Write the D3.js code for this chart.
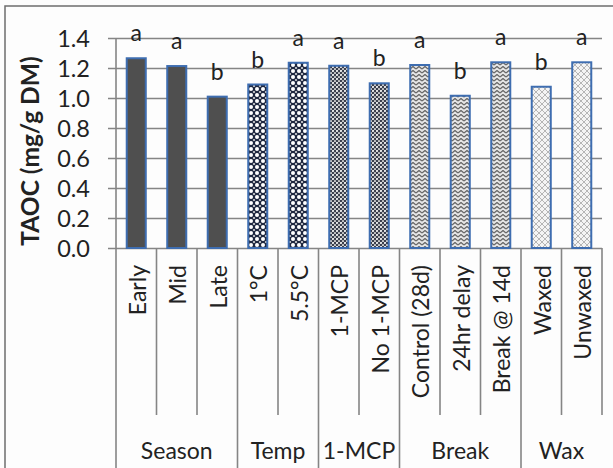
<!DOCTYPE html>
<html>
<head>
<meta charset="utf-8">
<script src="https://cdn.jsdelivr.net/npm/d3@7"></script>
<style>
  body { margin: 0; background: #fdfdfd; }
  text { font-family: Lato, "Open Sans", sans-serif; fill: #222; }
</style>
</head>
<body>
<div id="chart"></div>
<script>
  // data
  var categories = ["Early", "Mid", "Late", "1°C", "5.5°C", "1-MCP", "No 1-MCP",
                    "Control (28d)", "24hr delay", "Break @ 14d", "Waxed", "Unwaxed"];
  var values = [1.265, 1.213, 1.009, 1.09, 1.235, 1.215, 1.098, 1.22, 1.015, 1.238, 1.075, 1.238];
  var letters = ["a", "a", "b", "b", "a", "a", "b", "a", "b", "a", "b", "a"];
  var groups = ["Season", "Temp", "1-MCP", "Break", "Wax"];
  var groupSizes = [3, 2, 2, 3, 2];
  var yTicks = [0, 0.2, 0.4, 0.6, 0.8, 1.0, 1.2, 1.4];

  var W = 613, H = 468;
  var margin = { top: 38, left: 116, right: 11, bottom: 220 };
  var width = W - margin.left - margin.right,
      height = H - margin.top - margin.bottom;

  var svg = d3.select("#chart").append("svg")
      .attr("width", W).attr("height", H);

  // outer frame
  svg.append("rect")
    .attr("x", 5).attr("y", 6).attr("width", W + 10).attr("height", H + 10)
    .attr("fill", "#fdfdfd").attr("stroke", "#6e6e6e").attr("stroke-width", 1.5);

  var defs = svg.append("defs");

  // temp: dark with white dots
  var p1 = defs.append("pattern").attr("id", "pTemp").attr("patternUnits", "userSpaceOnUse")
    .attr("width", 6).attr("height", 6);
  p1.append("rect").attr("width", 6).attr("height", 6).attr("fill", "#1f2840");
  p1.append("circle").attr("cx", 3).attr("cy", 3).attr("r", 2).attr("fill", "#fff");
  p1.append("circle").attr("cx", 0).attr("cy", 0).attr("r", 1.1).attr("fill", "#dcdcdc");
  p1.append("circle").attr("cx", 6).attr("cy", 6).attr("r", 1.1).attr("fill", "#dcdcdc");
  p1.append("circle").attr("cx", 6).attr("cy", 0).attr("r", 1.1).attr("fill", "#dcdcdc");
  p1.append("circle").attr("cx", 0).attr("cy", 6).attr("r", 1.1).attr("fill", "#dcdcdc");

  // 1-MCP: finer mixed dots
  var p2 = defs.append("pattern").attr("id", "pMcp").attr("patternUnits", "userSpaceOnUse")
    .attr("width", 4).attr("height", 4);
  p2.append("rect").attr("width", 4).attr("height", 4).attr("fill", "#3a3e4c");
  p2.append("circle").attr("cx", 1).attr("cy", 1).attr("r", 1.1).attr("fill", "#f2f2f2");
  p2.append("circle").attr("cx", 3).attr("cy", 3).attr("r", 1.1).attr("fill", "#cfcfcf");

  // break: zigzag
  var p3 = defs.append("pattern").attr("id", "pBreak").attr("patternUnits", "userSpaceOnUse")
    .attr("width", 6).attr("height", 4);
  p3.append("rect").attr("width", 6).attr("height", 4).attr("fill", "#e6e6e6");
  p3.append("path").attr("d", "M0,3 L3,0.5 L6,3").attr("fill", "none")
    .attr("stroke", "#666").attr("stroke-width", 1.3);

  // wax: light cross-hatch
  var p4 = defs.append("pattern").attr("id", "pWax").attr("patternUnits", "userSpaceOnUse")
    .attr("width", 6).attr("height", 6);
  p4.append("rect").attr("width", 6).attr("height", 6).attr("fill", "#f4f4f4");
  p4.append("path").attr("d", "M0,0 L6,6 M6,0 L0,6").attr("fill", "none")
    .attr("stroke", "#b5b5b5").attr("stroke-width", 1);

  var groupFill = ["#4f4f4f", "url(#pTemp)", "url(#pMcp)", "url(#pBreak)", "url(#pWax)"];
  var catGroup = [];
  groupSizes.forEach(function(n, i) { for (var k = 0; k < n; k++) catGroup.push(i); });

  var g = svg.append("g").attr("transform", "translate(" + margin.left + "," + margin.top + ")");

  var x = d3.scaleBand().domain(categories).range([0, width]).padding(0);
  var y = d3.scaleLinear().domain([0, 1.4]).range([height, 0]);

  // gridlines + y axis
  var yAxis = d3.axisLeft(y).tickValues(yTicks).tickFormat(d3.format(".1f"))
    .tickSize(-(width + 8)).tickPadding(18);
  var ya = g.append("g").attr("transform", "translate(-8,0)").call(yAxis);
  ya.select(".domain").remove();
  ya.selectAll("line").attr("stroke", "#858585").attr("stroke-width", 1.6)
    .attr("transform", "translate(8,0)").attr("x1", -8).attr("x2", width);
  ya.selectAll("text").style("font-size", "23.5px").attr("fill", "#333").attr("dy", "0.34em");

  // bars
  var bw = x.bandwidth() * 0.47;
  g.selectAll(".bar").data(values).enter().append("rect")
    .attr("class", "bar")
    .attr("x", function(d, i) { return x(categories[i]) + (x.bandwidth() - bw) / 2; })
    .attr("y", function(d) { return y(d); })
    .attr("width", bw)
    .attr("height", function(d) { return y(0) - y(d); })
    .attr("fill", function(d, i) { return groupFill[catGroup[i]]; })
    .attr("stroke", "#3e6db0").attr("stroke-width", 2);

  // significance letters
  g.selectAll(".lab").data(values).enter().append("text")
    .attr("class", "lab")
    .attr("x", function(d, i) { return x(categories[i]) + x.bandwidth() / 2; })
    .attr("y", function(d) { return y(d) - 17; })
    .attr("text-anchor", "middle")
    .style("font-size", "23px")
    .text(function(d, i) { return letters[i]; });

  // left axis line
  g.append("line").attr("x1", 0).attr("x2", 0).attr("y1", 0).attr("y2", H - margin.top)
    .attr("stroke", "#858585").attr("stroke-width", 1.6);

  // category separators
  var starts = [0];
  groupSizes.forEach(function(n, i) { starts.push(starts[i] + n); });
  categories.forEach(function(c, i) {
    if (i === 0) return;
    var isGroup = starts.indexOf(i) >= 0;
    g.append("line")
      .attr("x1", x(c)).attr("x2", x(c))
      .attr("y1", height).attr("y2", isGroup ? H - margin.top : 415 - margin.top)
      .attr("stroke", "#858585").attr("stroke-width", 1.6);
  });
  g.append("line")
    .attr("x1", width).attr("x2", width).attr("y1", height).attr("y2", 415 - margin.top)
    .attr("stroke", "#858585").attr("stroke-width", 1.6);

  // category labels
  g.selectAll(".cat").data(categories).enter().append("text")
    .attr("class", "cat")
    .attr("transform", function(d) {
      return "translate(" + (x(d) + x.bandwidth() / 2 + 1) + "," + (height + 17) + ") rotate(-90)";
    })
    .attr("text-anchor", "end")
    .attr("dy", "0.36em")
    .style("font-size", "23px")
    .attr("fill", "#333")
    .text(function(d) { return d; });

  // group labels
  groups.forEach(function(gname, i) {
    var x0 = x(categories[starts[i]]);
    var x1 = starts[i + 1] < categories.length ? x(categories[starts[i + 1]]) : width;
    g.append("text")
      .attr("x", (x0 + x1) / 2)
      .attr("y", 451 - margin.top)
      .attr("dy", "0.36em")
      .attr("text-anchor", "middle")
      .style("font-size", "23px")
      .attr("fill", "#333")
      .text(gname);
  });

  // y title
  svg.append("text")
    .attr("transform", "translate(30,151) rotate(-90)")
    .attr("text-anchor", "middle")
    .attr("dy", "0.36em")
    .style("font-size", "24.5px")
    .style("font-weight", "bold")
    .text("TAOC (mg/g DM)");
</script>
</body>
</html>
